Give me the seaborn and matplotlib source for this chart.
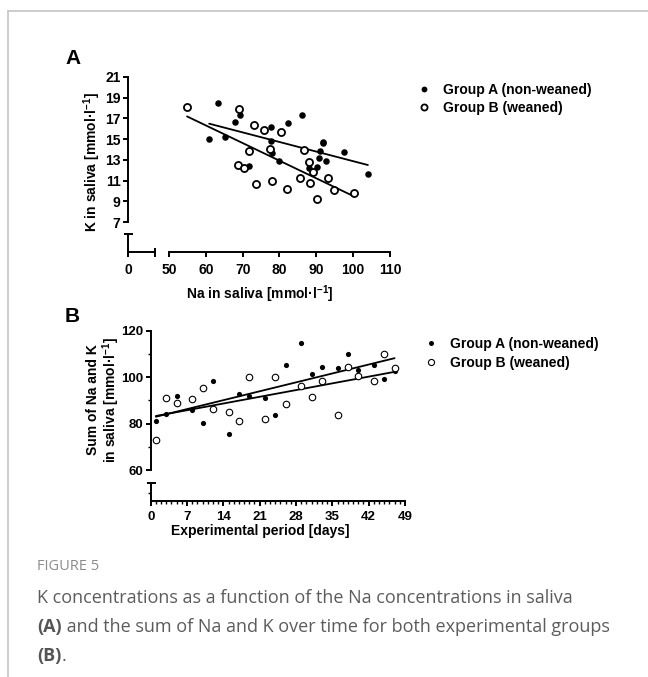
import numpy as np
import pandas as pd
import matplotlib
matplotlib.use("Agg")
import matplotlib.pyplot as plt
import seaborn as sns
from matplotlib.lines import Line2D
from matplotlib.ticker import FixedLocator, MultipleLocator

# ---------------- data ----------------
# Panel A: K vs Na in saliva
na_groupA = [60.9, 63.2, 65.3, 67.9, 69.4, 71.7, 77.6, 77.7, 78.0, 79.8, 82.4,
             86.1, 88.0, 90.1, 90.7, 91.0, 91.8, 91.8, 92.7, 97.4, 104.0]
k_groupA = [15.0, 18.5, 15.2, 16.7, 17.3, 12.4, 16.2, 14.8, 13.7, 12.9, 16.6,
            17.3, 12.2, 12.3, 13.2, 13.9, 14.75, 14.6, 12.85, 13.8, 11.6]
na_groupB = [54.9, 69.0, 73.0, 75.7, 80.4, 71.7, 77.4, 86.7, 68.8, 70.3, 73.5,
             78.0, 82.1, 85.7, 88.1, 88.2, 89.2, 90.1, 93.2, 94.8, 100.3]
k_groupB = [18.1, 17.9, 16.4, 15.85, 15.7, 13.85, 14.05, 14.0, 12.5, 12.25, 10.7,
            11.0, 10.15, 11.25, 12.75, 10.8, 11.8, 9.2, 11.3, 10.1, 9.8]

# Panel B: sum of Na and K over time
days = [1, 3, 5, 8, 10, 12, 15, 17, 19, 22, 24, 26, 29, 31, 33, 36, 38, 40, 43, 45, 47]
sum_groupA = [81.3, 84.3, 91.9, 86.0, 80.2, 98.2, 75.7, 92.9, 91.9, 91.1, 83.7,
              105.2, 114.6, 101.4, 104.5, 104.1, 110.0, 103.0, 105.2, 99.4, 102.8]
sum_groupB = [72.9, 91.1, 88.9, 90.6, 95.4, 86.5, 85.2, 81.0, 100.0, 82.2, 100.0,
              88.5, 96.1, 91.5, 98.5, 83.7, 104.3, 100.5, 98.2, 110.1, 103.8]

labels = ["Group A (non-weaned)", "Group B (weaned)"]
a_xticks = [50, 60, 70, 80, 90, 100, 110]
a_yticks = [7, 9, 11, 13, 15, 17, 19, 21]
b_xticks = [0, 7, 14, 21, 28, 35, 42, 49]
b_yticks = [60, 80, 100, 120]

# ---------------- style ----------------
sns.set_theme(style="ticks")
plt.rcParams["font.family"] = ["Liberation Sans", "DejaVu Sans"]
plt.rcParams["font.weight"] = "bold"
plt.rcParams["mathtext.fontset"] = "custom"
plt.rcParams["mathtext.rm"] = "Liberation Sans:bold"
plt.rcParams["mathtext.bf"] = "Liberation Sans:bold"
plt.rcParams["mathtext.it"] = "Liberation Sans:bold"
plt.rcParams["mathtext.default"] = "bf"
plt.rcParams["axes.linewidth"] = 1.4
plt.rcParams["axes.edgecolor"] = "black"
plt.rcParams["xtick.color"] = "black"
plt.rcParams["ytick.color"] = "black"
plt.rcParams["text.color"] = "black"

W, H = 648, 677
PT = 72 / 100.0  # px -> pt
fig = plt.figure(figsize=(W / 100, H / 100), dpi=100)
fig.patch.set_facecolor("white")


def rect(l, t, r, b):
    return [l / W, 1 - b / H, (r - l) / W, (b - t) / H]


def fx(x):
    return x / W


def fy(y):
    return 1 - y / H


line_kws = dict(color="black", lw=1.3)

# ---------------- Panel A ----------------
axA = fig.add_axes(rect(169, 77, 390, 252))
axA.patch.set_visible(False)
sns.scatterplot(x=na_groupA, y=k_groupA, ax=axA, marker="o", s=22, color="black",
                edgecolor="black", linewidth=0, zorder=3)
sns.scatterplot(x=na_groupB, y=k_groupB, ax=axA, marker="o", s=26, facecolor="white",
                edgecolor="black", linewidth=1.3, zorder=3)
sns.regplot(x=na_groupA, y=k_groupA, ax=axA, scatter=False, ci=None, truncate=True,
            line_kws=line_kws)
sns.regplot(x=na_groupB, y=k_groupB, ax=axA, scatter=False, ci=None, truncate=True,
            line_kws=line_kws)
axA.set_xlim(50, 110)
axA.set_ylim(4.11, 21)
for s in ("top", "right"):
    axA.spines[s].set_visible(False)
axA.spines["left"].set_position(("outward", 40.7 * PT))
axA.spines["left"].set_bounds(7, 21)
axA.spines["bottom"].set_bounds(50, 110)
axA.set_xticks(a_xticks)
axA.set_yticks(a_yticks)
axA.set_xlabel("")
axA.set_ylabel("")
axA.tick_params(axis="both", which="major", length=5 * PT, width=1.4, labelsize=10,
                pad=2, direction="out")
axA.tick_params(axis="x", which="major", pad=4)
axA.xaxis.set_minor_locator(FixedLocator([50]))
axA.tick_params(axis="x", which="minor", direction="inout", length=9 * PT, width=1.4)
for t in axA.get_xticklabels() + axA.get_yticklabels():
    t.set_fontweight("bold")

# stub (broken-axis corner) for panel A
axAs = fig.add_axes(rect(128.3, 234, 155, 252))
axAs.patch.set_visible(False)
axAs.set_xlim(0, 1)
axAs.set_ylim(0, 1)
for s in ("top", "right"):
    axAs.spines[s].set_visible(False)
axAs.set_xticks([0])
axAs.set_xticklabels(["0"], fontweight="bold")
axAs.set_yticks([])
axAs.xaxis.set_minor_locator(FixedLocator([1]))
axAs.yaxis.set_minor_locator(FixedLocator([1]))
axAs.tick_params(axis="x", which="major", length=5 * PT, width=1.4, labelsize=10, pad=4)
axAs.tick_params(axis="both", which="minor", direction="inout", length=9 * PT, width=1.4)
axAs.tick_params(axis="y", which="major", left=False)

fig.text(fx(260), fy(294), r"Na in saliva [mmol·l$^{-1}$]", ha="center", va="center",
         fontsize=10, fontweight="bold")
fig.text(fx(92), fy(162), r"K in saliva [mmol·l$^{-1}$]", ha="center", va="center",
         rotation=90, fontsize=10, fontweight="bold")
fig.text(fx(65), fy(58), "A", ha="left", va="center", fontsize=15, fontweight="bold")

hA = [Line2D([], [], ls="", marker="o", ms=4.2, mfc="black", mec="black", mew=0),
      Line2D([], [], ls="", marker="o", ms=4.4, mfc="white", mec="black", mew=1.3)]
axA.legend(hA, labels, loc="upper left", bbox_to_anchor=(fx(417), fy(83)),
           bbox_transform=fig.transFigure, frameon=False, borderpad=0, borderaxespad=0,
           handlelength=1.0, handletextpad=0.85, labelspacing=0.3,
           prop=dict(size=10, weight="bold"))

# ---------------- Panel B ----------------
axB = fig.add_axes(rect(150.7, 330.7, 405, 501))
axB.patch.set_visible(False)
sns.scatterplot(x=days, y=sum_groupA, ax=axB, marker="o", s=14, color="black",
                edgecolor="black", linewidth=0, zorder=3)
sns.scatterplot(x=days, y=sum_groupB, ax=axB, marker="o", s=22, facecolor="white",
                edgecolor="black", linewidth=0.8, zorder=3)
sns.regplot(x=days, y=sum_groupA, ax=axB, scatter=False, ci=None, truncate=True,
            line_kws=line_kws)
sns.regplot(x=days, y=sum_groupB, ax=axB, scatter=False, ci=None, truncate=True,
            line_kws=line_kws)
axB.set_xlim(0, 49)
axB.set_ylim(46.75, 120)
for s in ("top", "right"):
    axB.spines[s].set_visible(False)
axB.spines["left"].set_bounds(60, 120)
axB.spines["bottom"].set_bounds(0, 49)
axB.set_xticks(b_xticks)
axB.set_yticks(b_yticks)
axB.xaxis.set_minor_locator(MultipleLocator(1))
axB.yaxis.set_minor_locator(MultipleLocator(10))
axB.set_xlabel("")
axB.set_ylabel("")
axB.tick_params(axis="both", which="major", length=5 * PT, width=1.4, labelsize=9.5, pad=2)
axB.tick_params(axis="x", which="major", pad=3.5)
axB.tick_params(axis="both", which="minor", length=3 * PT, width=1.0)
for t in axB.get_xticklabels() + axB.get_yticklabels():
    t.set_fontweight("bold")

axBs = fig.add_axes(rect(150.7, 482.7, 160, 501))
axBs.patch.set_visible(False)
axBs.set_ylim(0, 1)
for s in ("top", "right", "bottom"):
    axBs.spines[s].set_visible(False)
axBs.set_xticks([])
axBs.set_yticks([])
axBs.yaxis.set_minor_locator(FixedLocator([1]))
axBs.tick_params(axis="y", which="minor", direction="inout", length=9 * PT, width=1.4)

fig.text(fx(260), fy(531), "Experimental period [days]", ha="center", va="center",
         fontsize=10, fontweight="bold")
fig.text(fx(93), fy(400), "Sum of Na and K", ha="center", va="center",
         rotation=90, fontsize=10, fontweight="bold")
fig.text(fx(111), fy(400), r"in saliva [mmol·l$^{-1}$]", ha="center", va="center",
         rotation=90, fontsize=10, fontweight="bold")
fig.text(fx(65), fy(316), "B", ha="left", va="center", fontsize=15, fontweight="bold")

hB = [Line2D([], [], ls="", marker="o", ms=3.6, mfc="black", mec="black", mew=0),
      Line2D([], [], ls="", marker="o", ms=4.4, mfc="white", mec="black", mew=0.8)]
axB.legend(hB, labels, loc="upper left", bbox_to_anchor=(fx(424), fy(337)),
           bbox_transform=fig.transFigure, frameon=False, borderpad=0, borderaxespad=0,
           handlelength=1.0, handletextpad=0.85, labelspacing=0.35,
           prop=dict(size=10, weight="bold"))

# ---------------- caption ----------------
cap_font = ["Open Sans", "DejaVu Sans"]
cap_size = 13
fig.text(fx(37), fy(567), "FIGURE 5", ha="left", va="center", family=cap_font,
         fontsize=10.5, fontweight="normal", color="#8c8c8c")
fig.text(fx(37), fy(598), "K concentrations as a function of the Na concentrations in saliva",
         ha="left", va="center", family=cap_font, fontsize=cap_size, fontweight="normal",
         color="#5c5c5c")
tA = fig.text(fx(37), fy(627), "(A)", ha="left", va="center", family=cap_font,
              fontsize=cap_size, fontweight="bold", color="#555555")
axA.annotate(" and the sum of Na and K over time for both experimental groups",
             xy=(1, 0.5), xycoords=tA, ha="left", va="center", family=cap_font,
             fontsize=cap_size, fontweight="normal", color="#5c5c5c", annotation_clip=False)
tB = fig.text(fx(37), fy(656), "(B)", ha="left", va="center", family=cap_font,
              fontsize=cap_size, fontweight="bold", color="#555555")
axA.annotate(".", xy=(1, 0.5), xycoords=tB, ha="left", va="center", family=cap_font,
             fontsize=cap_size, fontweight="normal", color="#5c5c5c", annotation_clip=False)

# ---------------- outer frame ----------------
fig.add_artist(Line2D([fx(8), 1.0], [fy(11), fy(11)], transform=fig.transFigure,
                      color="#c4c4c4", lw=1.2))
fig.add_artist(Line2D([fx(8), fx(8)], [fy(11), 0.0], transform=fig.transFigure,
                      color="#c4c4c4", lw=1.2))

fig.savefig("out.png", dpi=100, facecolor="white")
